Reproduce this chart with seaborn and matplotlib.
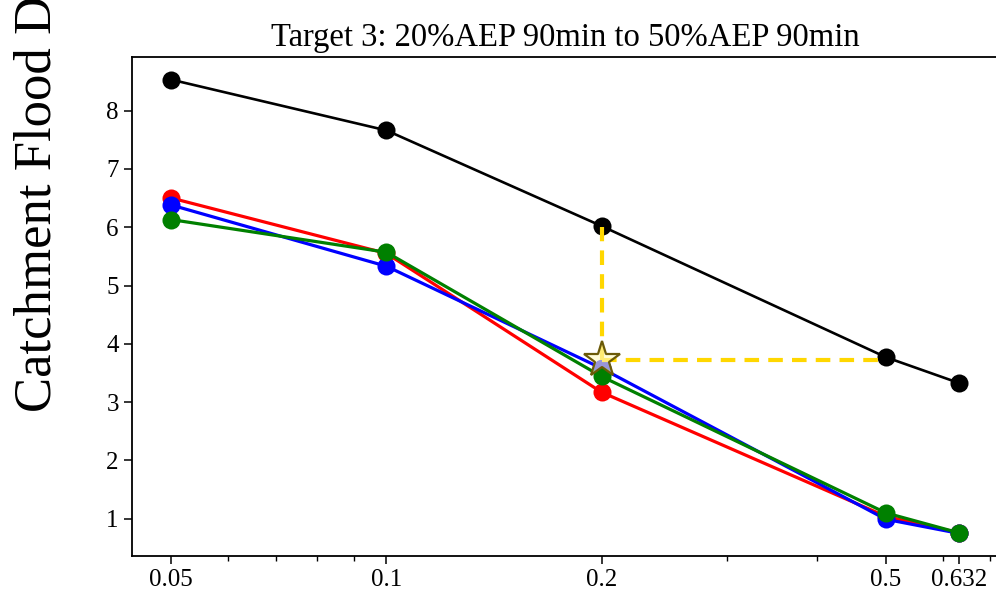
import matplotlib
matplotlib.use("Agg")
import matplotlib.pyplot as plt
import matplotlib.ticker as mticker
import seaborn as sns
import pandas as pd

# values
aep = [0.05, 0.1, 0.2, 0.5, 0.632]
aep_labels = ["0.05", "0.1", "0.2", "0.5", "0.632"]
depth_black = [8.53, 7.66, 6.02, 3.77, 3.33]
depth_red = [6.50, 5.55, 3.17, 1.04, 0.76]
depth_blue = [6.38, 5.33, 3.58, 0.99, 0.75]
depth_green = [6.13, 5.57, 3.44, 1.10, 0.76]
target_x = 0.2
target_y = 3.72
target_top = 6.0
target_right = 0.5
y_ticks = [1, 2, 3, 4, 5, 6, 7, 8]

sns.set_style("ticks", {"axes.edgecolor": "black", "text.color": "black",
                        "xtick.color": "black", "ytick.color": "black",
                        "axes.labelcolor": "black"})
plt.rcParams['font.family'] = ['Liberation Serif', 'DejaVu Serif']

fig = plt.figure(figsize=(9.96, 6.02), dpi=100)
# axes runs a little past the right edge, like the cropped original
ax = fig.add_axes([132 / 996, 46 / 602, 866 / 996, 499 / 602])

series = [("black", depth_black, 1.9), ("red", depth_red, 2.3),
          ("blue", depth_blue, 2.3), ("green", depth_green, 2.3)]
for color, vals, lw in series:
    df = pd.DataFrame({"AEP": aep, "Depth": vals})
    sns.lineplot(data=df, x="AEP", y="Depth", color=color, marker="o",
                 markersize=13, markeredgecolor=color, markeredgewidth=0,
                 linewidth=lw, ax=ax)

# target guide lines and star
ax.plot([target_x, target_x], [target_y, target_top], color="gold",
        linestyle="--", linewidth=3, dashes=(3.5, 2.2), zorder=4)
ax.plot([target_x, target_right], [target_y, target_y], color="gold",
        linestyle="--", linewidth=3, dashes=(3.5, 2.2), zorder=4)
ax.plot([target_x], [target_y], marker="*", markersize=27,
        markerfacecolor=(1.0, 0.98, 0.75, 0.6), markeredgecolor="#6b5a08",
        markeredgewidth=1.6, linestyle="none", zorder=6)

ax.set_xscale("log")
ax.set_xticks(aep)
ax.set_xticklabels(aep_labels)
ax.xaxis.set_minor_formatter(mticker.NullFormatter())
ax.set_yticks(y_ticks)
ax.set_xlabel("")
ax.set_ylabel("")
ax.tick_params(axis="both", which="major", labelsize=18, length=6, width=1.1)
ax.tick_params(axis="both", which="minor", length=3.5, width=1.0)
for s in ax.spines.values():
    s.set_linewidth(1.3)

ax.set_title("Target 3: 20%AEP 90min to 50%AEP 90min", fontsize=23.5, pad=8)

fig.text(38 / 996, 190 / 602, "Catchment Flood Depth (m)", rotation=90,
         ha="center", va="bottom", fontsize=38)

fig.savefig("out.png", dpi=100)
